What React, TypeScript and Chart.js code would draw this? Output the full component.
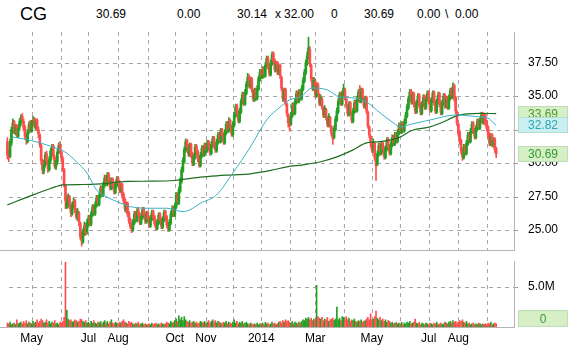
import React, { useEffect, useRef } from 'react';
import { Chart, registerables } from 'chart.js';

Chart.register(...registerables);

// ---------- DATA (trading-day index 0 = first candle) ----------
const opens = [
  31.6,30.7,30.5,31.5,32.4,33.1,32.3,32.8,32.0,32.7,
  33.0,33.5,33.1,32.7,31.9,31.6,32.4,33.0,32.4,33.1,
  33.3,32.7,33.2,32.5,32.1,31.3,30.1,29.4,29.9,30.7,
  30.0,29.5,30.2,30.8,31.3,30.4,29.7,30.1,30.9,31.4,
  30.8,30.3,29.5,28.3,26.7,26.9,27.5,26.7,26.2,26.8,
  27.2,26.4,25.9,26.3,25.5,24.6,24.1,24.8,25.4,24.9,
  25.5,26.0,25.4,26.1,26.8,26.2,26.8,27.5,26.9,27.5,
  28.2,27.6,28.3,29.0,28.4,29.2,28.7,28.1,28.8,28.4,
  27.8,28.3,28.9,28.6,27.9,28.4,27.7,27.3,26.5,27.0,
  26.3,25.8,25.4,25.0,25.5,26.3,25.7,26.5,26.2,25.5,
  25.9,26.6,26.2,25.6,26.3,25.9,25.3,25.8,26.4,26.0,
  25.6,25.1,25.5,26.2,25.8,25.2,25.7,26.4,26.0,25.5,
  25.0,25.5,26.1,26.7,26.1,26.7,27.7,27.0,27.9,28.6,
  29.4,30.1,30.9,31.7,31.3,30.6,31.4,30.7,29.9,30.4,
  31.3,30.9,30.4,29.8,30.5,31.2,30.6,31.4,30.9,31.6,
  31.3,30.7,31.3,31.9,31.4,30.9,31.5,32.2,31.6,32.5,
  32.1,31.5,32.2,33.0,32.4,33.2,32.7,32.1,32.8,33.5,
  34.3,33.8,33.1,33.8,34.5,35.2,34.4,35.2,35.8,36.5,
  35.7,36.3,35.4,34.7,35.5,34.8,35.5,36.2,36.9,36.4,
  37.1,36.5,37.2,37.9,37.3,36.6,37.4,38.2,37.7,36.9,
  37.5,36.7,37.3,36.4,35.5,34.7,35.5,34.4,33.6,33.1,
  32.9,33.5,34.4,33.7,34.5,35.3,34.6,35.4,34.8,35.5,
  36.1,36.7,37.4,37.9,38.5,37.3,36.2,35.5,36.1,35.0,
  35.9,35.1,34.4,34.8,34.1,33.5,34.0,33.3,32.8,33.4,
  32.7,32.1,31.9,32.5,33.2,33.8,34.5,35.2,34.4,35.1,
  35.5,34.8,34.2,33.6,34.5,33.7,33.1,33.8,34.6,33.9,
  34.7,35.4,34.6,35.5,34.8,34.2,34.9,33.8,32.7,32.0,
  31.4,30.9,31.5,30.3,29.9,30.6,31.4,30.7,31.5,31.1,
  30.4,31.0,31.8,31.3,30.7,31.3,32.0,31.4,32.2,31.6,
  32.2,32.9,32.3,33.0,32.4,33.0,33.5,34.1,34.7,35.4,
  34.5,35.2,34.5,33.8,34.4,35.1,34.4,33.7,34.3,35.0,
  34.1,34.7,35.3,34.7,33.9,34.6,35.3,34.6,33.8,34.5,
  35.2,34.5,33.7,34.4,35.1,34.2,34.9,34.1,34.8,35.5,
  34.9,35.8,34.9,33.8,32.9,32.3,31.7,31.0,30.4,31.3,
  30.7,31.4,32.2,31.6,32.3,33.0,32.5,31.9,32.5,33.2,
  32.6,33.1,33.7,33.0,33.6,33.1,32.7,32.2,31.4,32.1,
  31.3,31.8,31.1
];
const highs = [
  31.9,31.0,31.8,32.7,33.3,33.2,32.9,32.9,32.8,33.3,
  33.6,33.7,33.3,32.8,32.2,32.5,33.1,33.2,33.2,33.5,
  33.4,33.3,33.3,32.7,32.2,31.4,30.3,30.2,30.8,30.9,
  30.2,30.5,31.1,31.4,31.4,30.6,30.4,31.0,31.5,31.6,
  31.0,30.5,29.6,28.4,27.6,27.7,27.6,26.9,27.1,27.4,
  27.3,26.6,26.6,26.4,25.6,24.8,25.1,25.6,25.5,25.8,
  26.1,26.1,26.4,26.9,26.9,27.1,27.6,27.6,27.8,28.3,
  28.3,28.6,29.1,29.1,29.3,29.3,28.9,28.9,28.9,28.5,
  28.6,29.0,29.0,28.7,28.5,28.5,27.8,27.4,27.1,27.1,
  26.4,25.9,25.5,25.8,26.4,26.4,26.6,26.7,26.3,26.2,
  26.7,26.7,26.3,26.4,26.4,26.0,26.1,26.5,26.5,26.1,
  25.7,25.8,26.3,26.3,25.9,26.0,26.5,26.5,26.1,25.6,
  25.8,26.4,26.8,26.8,27.0,27.8,27.8,28.2,28.9,29.7,
  30.4,31.2,31.8,31.8,31.4,31.5,31.5,30.8,30.7,31.4,
  31.4,31.0,30.5,30.8,31.3,31.3,31.5,31.5,31.7,31.7,
  31.4,31.6,32.0,32.0,31.5,31.8,32.3,32.3,32.6,32.6,
  32.2,32.5,33.1,33.1,33.4,33.3,32.8,33.1,33.8,34.4,
  34.4,33.9,34.1,34.8,35.3,35.3,35.5,36.1,36.7,36.6,
  36.4,36.4,35.5,35.6,35.6,35.8,36.5,37.0,37.0,37.2,
  37.2,37.5,38.0,38.0,37.4,37.7,38.3,38.3,37.8,37.6,
  37.6,37.4,37.4,36.5,35.6,35.6,35.6,34.5,33.7,33.4,
  33.8,34.5,34.5,34.8,35.4,35.4,35.5,35.5,35.8,36.4,
  37.0,37.7,38.3,39.4,38.7,37.4,36.4,36.4,36.3,36.0,
  36.0,35.2,35.1,34.9,34.2,34.3,34.1,33.4,33.7,33.5,
  32.8,32.2,32.8,33.5,34.1,34.8,35.3,35.3,35.4,35.9,
  35.6,34.9,34.3,34.6,34.6,33.8,34.1,34.7,34.7,35.0,
  35.5,35.8,35.6,35.6,34.9,35.0,35.0,33.9,32.8,32.1,
  31.6,31.8,31.6,30.4,30.9,31.5,31.5,31.6,31.6,31.2,
  31.3,31.9,31.9,31.4,31.6,32.1,32.1,32.3,32.3,32.5,
  33.0,33.0,33.1,33.1,33.3,33.8,34.4,35.0,35.5,35.5,
  35.3,35.3,34.6,34.7,35.2,35.2,34.5,34.6,35.1,35.1,
  35.0,35.4,35.4,34.8,34.9,35.4,35.4,34.7,34.8,35.3,
  35.3,34.6,34.7,35.2,35.2,35.0,35.0,35.1,35.6,35.6,
  36.0,35.9,35.0,33.9,33.0,32.4,31.8,31.1,31.4,31.4,
  31.7,32.3,32.3,32.6,33.1,33.1,32.6,32.8,33.3,33.3,
  33.4,33.8,33.8,33.7,33.7,33.2,32.8,32.3,32.2,32.2,
  31.9,31.9,31.2
];
const lows = [
  30.3,30.1,30.4,31.3,32.2,32.2,32.1,31.9,31.9,32.5,
  32.8,33.0,32.4,31.8,31.4,31.5,32.2,32.3,32.3,32.8,
  32.6,32.5,32.4,31.9,31.2,29.9,29.2,29.2,29.7,29.9,
  29.3,29.4,30.0,30.6,30.3,29.6,29.5,29.9,30.7,30.7,
  30.1,29.4,28.2,26.6,26.6,26.7,26.6,26.0,26.1,26.6,
  26.3,25.8,25.7,25.3,24.3,23.8,24.0,24.6,24.6,24.7,
  25.3,25.3,25.3,26.0,26.1,26.1,26.7,26.8,26.8,27.4,
  27.5,27.5,28.2,28.3,28.3,28.4,28.0,28.0,28.1,27.7,
  27.7,28.2,28.3,27.8,27.8,27.4,27.0,26.4,26.3,26.0,
  25.5,25.1,24.8,24.9,25.4,25.6,25.6,25.9,25.4,25.4,
  25.8,25.9,25.5,25.5,25.6,25.2,25.2,25.7,25.7,25.3,
  25.0,25.0,25.4,25.5,25.1,25.1,25.6,25.7,25.2,24.9,
  24.9,25.4,26.0,26.0,26.0,26.6,26.9,26.9,27.8,28.5,
  29.3,30.0,30.8,31.0,30.5,30.5,30.4,29.8,29.8,30.3,
  30.6,30.1,29.7,29.7,30.4,30.5,30.5,30.8,30.8,31.0,
  30.6,30.6,31.2,31.1,30.8,30.8,31.4,31.5,31.5,31.8,
  31.4,31.4,32.1,32.3,32.3,32.4,32.0,32.0,32.7,33.4,
  33.5,33.0,33.0,33.7,34.4,34.3,34.3,35.1,35.7,35.6,
  35.6,35.3,34.6,34.6,34.7,34.7,35.4,36.1,36.3,36.3,
  36.4,36.4,37.1,37.0,36.5,36.5,37.3,37.4,36.8,36.8,
  36.6,36.6,36.3,35.4,34.6,34.6,34.3,33.5,32.7,32.4,
  32.8,33.4,33.6,33.6,34.4,34.5,34.5,34.7,34.7,35.4,
  36.0,36.6,37.3,37.8,37.2,36.1,35.4,35.4,34.9,34.9,
  35.0,34.3,34.3,34.0,33.4,33.4,33.2,32.7,32.7,32.6,
  32.0,31.4,31.8,32.4,33.1,33.7,34.4,34.3,34.3,35.0,
  34.7,34.1,33.5,33.5,33.6,33.0,33.0,33.7,33.8,33.8,
  34.6,34.5,34.5,34.7,34.1,34.1,33.7,32.6,31.9,31.2,
  30.8,30.8,30.2,28.7,29.8,30.5,30.6,30.6,30.8,30.3,
  30.3,30.9,31.0,30.6,30.6,31.2,31.3,31.3,31.5,31.5,
  32.1,32.2,32.2,32.3,32.3,32.9,33.4,34.0,34.6,34.4,
  34.4,34.2,33.7,33.7,34.3,34.1,33.6,33.6,34.2,34.0,
  34.0,34.6,34.4,33.8,33.8,34.5,34.3,33.7,33.7,34.4,
  34.2,33.6,33.6,34.3,34.1,34.1,34.0,34.0,34.7,34.8,
  34.8,34.6,33.7,32.8,32.0,31.4,30.7,30.2,30.3,30.6,
  30.6,31.3,31.5,31.5,32.2,32.2,31.8,31.8,32.4,32.5,
  32.5,33.0,32.9,32.9,32.8,32.4,31.9,31.3,31.3,31.2,
  31.2,30.8,30.4
];
const closes = [
  30.6,30.4,31.6,32.5,33.0,32.4,32.7,32.1,32.6,33.1,
  33.4,33.2,32.6,32.0,31.7,32.3,32.9,32.5,33.0,33.2,
  32.8,33.1,32.6,32.2,31.4,30.2,29.5,29.9,30.6,30.1,
  29.6,30.3,30.9,31.2,30.5,29.8,30.2,30.8,31.3,30.9,
  30.4,29.6,28.4,27.2,26.9,27.4,26.8,26.3,26.9,27.1,
  26.5,26.0,26.4,25.6,24.5,24.2,24.9,25.3,24.8,25.6,
  25.9,25.5,26.2,26.7,26.3,26.9,27.4,27.0,27.6,28.1,
  27.7,28.4,28.9,28.5,29.1,28.6,28.2,28.7,28.3,27.9,
  28.4,28.8,28.5,28.0,28.3,27.6,27.2,26.6,26.9,26.2,
  25.7,25.3,25.1,25.6,26.2,25.8,26.4,26.1,25.6,26.0,
  26.5,26.1,25.7,26.2,25.8,25.4,25.9,26.3,25.9,25.5,
  25.2,25.6,26.1,25.7,25.3,25.8,26.3,25.9,25.4,25.1,
  25.6,26.2,26.6,26.2,26.8,27.6,27.1,28.0,28.7,29.5,
  30.2,31.0,31.6,31.2,30.7,31.3,30.6,30.0,30.5,31.2,
  30.8,30.3,29.9,30.6,31.1,30.7,31.3,31.0,31.5,31.2,
  30.8,31.4,31.8,31.3,31.0,31.6,32.1,31.7,32.4,32.0,
  31.6,32.3,32.9,32.5,33.1,32.6,32.2,32.9,33.6,34.2,
  33.7,33.2,33.9,34.6,35.1,34.5,35.3,35.9,36.4,35.8,
  36.2,35.5,34.8,35.4,34.9,35.6,36.3,36.8,36.5,37.0,
  36.6,37.3,37.8,37.2,36.7,37.5,38.1,37.6,37.0,37.4,
  36.8,37.2,36.5,35.6,34.8,35.4,34.5,33.7,33.0,32.8,
  33.6,34.3,33.8,34.6,35.2,34.7,35.3,34.9,35.6,36.2,
  36.8,37.5,38.0,38.6,37.4,36.3,35.6,36.2,35.1,35.8,
  35.2,34.5,34.9,34.2,33.6,34.1,33.4,32.9,33.5,32.8,
  32.2,31.8,32.6,33.3,33.9,34.6,35.1,34.5,35.2,35.6,
  34.9,34.3,33.7,34.4,33.8,33.2,33.9,34.5,34.0,34.8,
  35.3,34.7,35.4,34.9,34.3,34.8,33.9,32.8,32.1,31.5,
  31.0,31.6,30.4,29.8,30.7,31.3,30.8,31.4,31.0,30.5,
  31.1,31.7,31.2,30.8,31.4,31.9,31.5,32.1,31.7,32.3,
  32.8,32.4,32.9,32.5,33.1,33.6,34.2,34.8,35.3,34.6,
  35.1,34.4,33.9,34.5,35.0,34.3,33.8,34.4,34.9,34.2,
  34.8,35.2,34.6,34.0,34.7,35.2,34.5,33.9,34.6,35.1,
  34.4,33.8,34.5,35.0,34.3,34.8,34.2,34.9,35.4,35.0,
  35.7,34.8,33.9,33.0,32.2,31.6,30.9,30.5,31.2,30.8,
  31.5,32.1,31.7,32.4,32.9,32.4,32.0,32.6,33.1,32.7,
  33.2,33.6,33.1,33.5,33.0,32.6,32.1,31.5,32.0,31.4,
  31.7,31.0,30.69
];
// volume in millions of shares
const volumes = [
  0.5,0.4,0.6,0.3,0.4,0.5,0.3,0.9,0.4,0.5,0.6,0.4,0.7,0.5,0.8,0.4,0.6,0.5,
  0.4,0.7,0.5,0.6,0.9,0.5,0.7,1.0,0.8,0.5,0.6,0.9,0.5,0.7,0.4,0.6,0.5,0.8,0.4,0.5,0.3,0.6,
  0.5,0.7,1.2,8.1,2.1,1.0,0.8,0.9,0.6,0.7,0.9,0.8,0.6,0.7,1.0,0.9,0.7,0.6,0.8,0.5,
  0.6,0.4,0.7,0.5,0.8,0.5,0.4,0.6,0.5,0.7,0.4,0.6,0.8,0.5,0.7,0.4,0.6,0.9,0.5,0.4,0.6,0.5,
  0.4,0.6,0.5,0.7,0.9,0.6,0.5,0.4,0.7,0.5,0.6,0.4,0.3,0.5,0.4,0.6,0.3,0.4,0.5,0.3,0.4,0.3,
  0.3,0.4,0.3,0.5,0.3,0.4,0.5,0.3,0.4,0.3,0.5,0.4,0.3,0.4,0.6,0.5,0.4,0.7,0.5,0.6,
  0.8,1.0,0.7,1.4,0.9,1.2,0.8,1.3,0.9,0.7,0.6,0.8,0.5,0.6,0.7,0.5,0.6,0.4,0.5,0.7,0.6,0.5,0.7,
  0.5,0.6,0.8,0.5,0.7,0.9,0.6,0.8,0.5,0.7,0.6,0.5,0.4,0.6,0.5,0.7,0.4,0.6,0.5,0.4,
  0.6,0.9,0.5,0.7,0.4,0.6,0.5,0.7,0.4,0.5,0.6,0.4,0.3,0.5,0.4,0.3,0.4,0.3,0.5,0.3,0.4,
  0.4,0.5,0.3,0.6,0.4,0.5,0.3,0.4,0.6,0.4,0.5,0.3,0.4,0.6,0.7,0.5,0.8,0.6,0.9,0.7,0.8,
  0.6,0.5,0.7,0.4,0.6,0.5,0.4,0.6,0.5,0.7,0.9,0.8,1.1,1.0,1.2,0.9,1.1,0.8,1.0,
  0.9,5.2,1.3,1.1,1.0,1.2,0.8,1.0,0.9,1.2,0.7,0.9,1.0,1.1,0.8,1.0,2.5,0.9,1.1,0.8,1.3,
  1.2,1.0,1.3,0.9,1.1,0.7,0.9,0.8,1.0,0.7,0.6,0.8,0.7,0.9,0.6,0.7,0.8,1.0,1.2,0.9,1.65,
  0.9,1.0,1.3,2.0,1.1,0.9,1.2,0.8,1.0,0.7,0.9,0.6,0.8,0.7,0.5,0.6,0.4,0.5,0.6,0.4,0.5,
  0.4,0.6,0.3,0.5,0.4,0.6,0.5,0.7,0.4,0.5,0.6,1.0,0.5,0.4,0.6,0.3,0.5,0.4,0.3,0.5,0.4,
  0.3,0.5,0.4,0.3,0.5,0.4,0.6,0.3,0.4,0.5,0.3,0.4,0.6,0.5,0.4,0.6,0.7,0.5,0.8,0.6,0.7,0.5,
  0.6,0.8,0.7,0.9,0.6,0.5,0.7,0.4,0.5,0.3,0.4,0.5,0.3,0.4,0.3,0.5,0.4,0.3,0.4,0.3,0.4,
  0.3,0.5,0.4,0.6,0.3,0.4,0.5,0.4
];

// moving averages (day index, value)
const ma50Days = [4,18,29,38,44,51,59,66,73,81,91,103,118,130,135,143,155,167,180,192,202,209,217,226,237,246,256,266,276,286,291,300,313,333,348,355,362];
const ma50Vals = [31.95,31.68,31.36,31.04,30.74,30.11,29.25,28.0,27.5,27.13,26.75,26.63,26.63,26.38,26.5,27.0,27.63,29.27,31.21,33.22,34.19,34.72,34.94,35.61,35.46,34.94,34.87,34.57,33.75,33.0,32.7,32.93,33.22,33.6,33.47,33.4,32.82];
const ma200Days = [0,19,32,41,56,69,88,106,123,133,143,155,167,180,195,207,219,232,244,256,266,276,290,300,313,326,333,350,362];
const ma200Vals = [26.88,27.63,28.1,28.38,28.4,28.45,28.63,28.65,28.7,28.82,28.95,29.05,29.12,29.2,29.45,29.72,29.87,30.1,30.46,30.99,31.51,31.6,31.9,32.45,32.7,33.22,33.55,33.72,33.69];

// month boundaries (first trading day index) and their labels
const monthDays = [18,40,60,82,104,124,147,167,188,209,228,249,270,291,312,334,355];
const monthLabels = ['May','','Jul','Aug','','Oct','Nov','','2014','','Mar','','May','','Jul','Aug',''];

const priceTicks = [25, 27.5, 30, 32.5, 35, 37.5];
const volumeTicks = [5];

const lastValues = [
  { value: 33.69, bg: '#d6efc6', fg: '#4f9a2c' },
  { value: 32.82, bg: '#c9eff0', fg: '#2ea4b4' },
  { value: 30.69, bg: '#d6efc6', fg: '#2f9a2f' },
];

const headerItems = [
  { text: 'CG', x: 20, size: 18 },
  { text: '30.69', x: 96, size: 12 },
  { text: '0.00', x: 177, size: 12 },
  { text: '30.14', x: 237, size: 12 },
  { text: 'x', x: 275, size: 12 },
  { text: '32.00', x: 284, size: 12 },
  { text: '0', x: 331, size: 12 },
  { text: '30.69', x: 364, size: 12 },
  { text: '0.00', x: 417, size: 12 },
  { text: '\\', x: 445, size: 12 },
  { text: '0.00', x: 455, size: 12 },
];

// ---------- STYLE ----------
const FONT = '"Liberation Sans", Arial, Helvetica, sans-serif';
const GREEN = '#22a022';
const RED = '#ff4d4d';
const CYAN = '#3ab0c2';
const DKGREEN = '#1f6e1f';
const XMIN = -1.04;
const XMAX = 375.2;

function framePlugin(ticks: number[], scaleFactor: number) {
  return {
    id: 'frame',
    beforeDatasetsDraw(chart: any) {
      const { ctx, chartArea: a, scales } = chart;
      const xs = scales.x;
      const ys = scales.y;
      ctx.save();
      ctx.lineWidth = 1;
      ctx.strokeStyle = '#a6a6a6';
      ctx.setLineDash([4, 4]);
      for (const d of monthDays) {
        const x = Math.round(xs.getPixelForValue(d)) + 0.5;
        ctx.beginPath();
        ctx.moveTo(x, a.top);
        ctx.lineTo(x, a.bottom);
        ctx.stroke();
      }
      for (const v of ticks) {
        const y = Math.round(ys.getPixelForValue(v * scaleFactor)) + 0.5;
        ctx.beginPath();
        ctx.moveTo(a.left + 3, y);
        ctx.lineTo(a.right, y);
        ctx.stroke();
      }
      ctx.setLineDash([]);
      ctx.strokeStyle = '#9a9a9a';
      for (const v of ticks) {
        const y = Math.round(ys.getPixelForValue(v * scaleFactor)) + 0.5;
        ctx.beginPath();
        ctx.moveTo(a.right, y);
        ctx.lineTo(a.right + 4, y);
        ctx.stroke();
      }
      ctx.strokeStyle = '#b4b4b4';
      ctx.beginPath();
      ctx.moveTo(Math.round(a.right) + 0.5, a.top);
      ctx.lineTo(Math.round(a.right) + 0.5, a.bottom + 1);
      ctx.moveTo(0, Math.round(a.bottom) + 0.5);
      ctx.lineTo(a.right + 1, Math.round(a.bottom) + 0.5);
      ctx.stroke();
      ctx.restore();
    },
  };
}

function drawBox(ctx: any, y: number, h: number, bg: string, fg: string, text: string, align: 'left' | 'center') {
  ctx.save();
  ctx.fillStyle = bg;
  ctx.fillRect(518, y, 50, h);
  ctx.strokeStyle = 'rgba(150,190,150,0.35)';
  ctx.lineWidth = 1;
  ctx.strokeRect(518.5, y + 0.5, 49, h - 1);
  ctx.fillStyle = fg;
  ctx.font = `12px ${FONT}`;
  ctx.textBaseline = 'middle';
  ctx.textAlign = align;
  ctx.fillText(text, align === 'left' ? 528 : 543, y + h / 2 + 1);
  ctx.restore();
}

const priceLabelsPlugin = {
  id: 'lastValues',
  afterDraw(chart: any) {
    const ys = chart.scales.y;
    for (const item of lastValues) {
      const y = ys.getPixelForValue(item.value);
      drawBox(chart.ctx, Math.round(y) - 8, 16, item.bg, item.fg, item.value.toFixed(2), 'left');
    }
  },
};

const volumeZeroPlugin = {
  id: 'zeroBox',
  afterDraw(chart: any) {
    const y0 = chart.scales.y.getPixelForValue(0);
    drawBox(chart.ctx, Math.round(y0) - 17, 17, '#d6efc6', '#3a9a3a', '0', 'center');
  },
};

export default function App() {
  const priceRef = useRef<HTMLCanvasElement>(null);
  const volRef = useRef<HTMLCanvasElement>(null);

  useEffect(() => {
    const n = Math.min(opens.length, highs.length, lows.length, closes.length);
    const days = Array.from({ length: n }, (_, i) => i);
    const colors = days.map((i) => (closes[i] >= opens[i] ? GREEN : RED));

    const priceChart = new Chart(priceRef.current as HTMLCanvasElement, {
      type: 'bar',
      data: {
        datasets: [
          {
            type: 'line',
            label: 'MA50',
            data: ma50Days.map((d, k) => ({ x: d, y: ma50Vals[k] })),
            borderColor: CYAN,
            borderWidth: 1,
            pointRadius: 0,
            fill: false,
            cubicInterpolationMode: 'monotone',
            order: 0,
          } as any,
          {
            type: 'line',
            label: 'MA200',
            data: ma200Days.map((d, k) => ({ x: d, y: ma200Vals[k] })),
            borderColor: DKGREEN,
            borderWidth: 1.2,
            pointRadius: 0,
            fill: false,
            cubicInterpolationMode: 'monotone',
            order: 0,
          } as any,
          {
            type: 'bar',
            label: 'range',
            data: days.map((i) => ({ x: i, y: [lows[i], highs[i]] })),
            backgroundColor: colors,
            borderWidth: 0,
            barThickness: 1,
            grouped: false,
            order: 2,
          } as any,
          {
            type: 'bar',
            label: 'body',
            data: days.map((i) => ({ x: i, y: [Math.min(opens[i], closes[i]), Math.max(opens[i], closes[i])] })),
            backgroundColor: colors,
            borderWidth: 0,
            barThickness: 2,
            minBarLength: 1,
            grouped: false,
            order: 1,
          } as any,
        ],
      },
      options: {
        responsive: false,
        maintainAspectRatio: false,
        animation: false,
        devicePixelRatio: 1,
        events: [],
        layout: { padding: { left: 6, top: 32, right: 0, bottom: 101 } },
        plugins: { legend: { display: false }, tooltip: { enabled: false } },
        scales: {
          x: { type: 'linear', min: XMIN, max: XMAX, offset: false, display: false },
          y: {
            type: 'linear',
            position: 'right',
            min: 23.51,
            max: 39.79,
            grid: { display: false, drawTicks: false, tickLength: 0 },
            border: { display: false },
            ticks: {
              padding: 14,
              color: '#000',
              font: { family: FONT, size: 12 },
              callback: (v: any) => Number(v).toFixed(2),
            },
            afterBuildTicks: (s: any) => {
              s.ticks = priceTicks.map((v) => ({ value: v }));
            },
            afterFit: (s: any) => {
              s.width = 54;
            },
          },
        },
      } as any,
      plugins: [framePlugin(priceTicks, 1), priceLabelsPlugin],
    });

    const volChart = new Chart(volRef.current as HTMLCanvasElement, {
      type: 'bar',
      data: {
        datasets: [
          {
            label: 'Volume',
            data: volumes.map((v, i) => ({ x: i, y: v * 1e6 })),
            backgroundColor: volumes.map((_, i) => (closes[i] >= opens[i] ? GREEN : RED)),
            borderWidth: 0,
            barThickness: 1,
            grouped: false,
          } as any,
        ],
      },
      options: {
        responsive: false,
        maintainAspectRatio: false,
        animation: false,
        devicePixelRatio: 1,
        events: [],
        layout: { padding: { left: 6, top: 261, right: 0, bottom: 0 } },
        plugins: { legend: { display: false }, tooltip: { enabled: false } },
        scales: {
          x: {
            type: 'linear',
            min: XMIN,
            max: XMAX,
            offset: false,
            grid: { display: false, drawTicks: false, tickLength: 0, offset: false },
            border: { display: false },
            ticks: {
              autoSkip: false,
              maxRotation: 0,
              minRotation: 0,
              padding: 4,
              color: '#000',
              font: { family: FONT, size: 12 },
              callback: (_v: any, idx: number) => monthLabels[idx] ?? '',
            },
            afterBuildTicks: (s: any) => {
              s.ticks = monthDays.map((v) => ({ value: v }));
            },
            afterFit: (s: any) => {
              s.height = 24;
            },
          },
          y: {
            type: 'linear',
            position: 'right',
            min: 0,
            max: 8.25e6,
            grid: { display: false, drawTicks: false, tickLength: 0 },
            border: { display: false },
            ticks: {
              padding: 14,
              color: '#000',
              font: { family: FONT, size: 12 },
              callback: (v: any) => (Number(v) / 1e6).toFixed(1) + 'M',
            },
            afterBuildTicks: (s: any) => {
              s.ticks = volumeTicks.map((v) => ({ value: v * 1e6 }));
            },
            afterFit: (s: any) => {
              s.width = 54;
            },
          },
        },
      } as any,
      plugins: [framePlugin(volumeTicks, 1e6), volumeZeroPlugin],
    });

    return () => {
      priceChart.destroy();
      volChart.destroy();
    };
  }, []);

  return (
    <div
      style={{
        position: 'fixed',
        left: 0,
        top: 0,
        width: 568,
        height: 351,
        background: '#ffffff',
        overflow: 'hidden',
        fontFamily: FONT,
        color: '#000',
      }}
    >
      {headerItems.map((h, k) => (
        <span
          key={k}
          style={{
            position: 'absolute',
            left: h.x,
            top: h.size > 12 ? 5 : 8,
            fontSize: h.size,
            lineHeight: `${h.size}px`,
            whiteSpace: 'pre',
          }}
        >
          {h.text}
        </span>
      ))}
      <canvas ref={priceRef} width={568} height={351} style={{ position: 'absolute', left: 0, top: 0 }} />
      <canvas ref={volRef} width={568} height={351} style={{ position: 'absolute', left: 0, top: 0 }} />
    </div>
  );
}
